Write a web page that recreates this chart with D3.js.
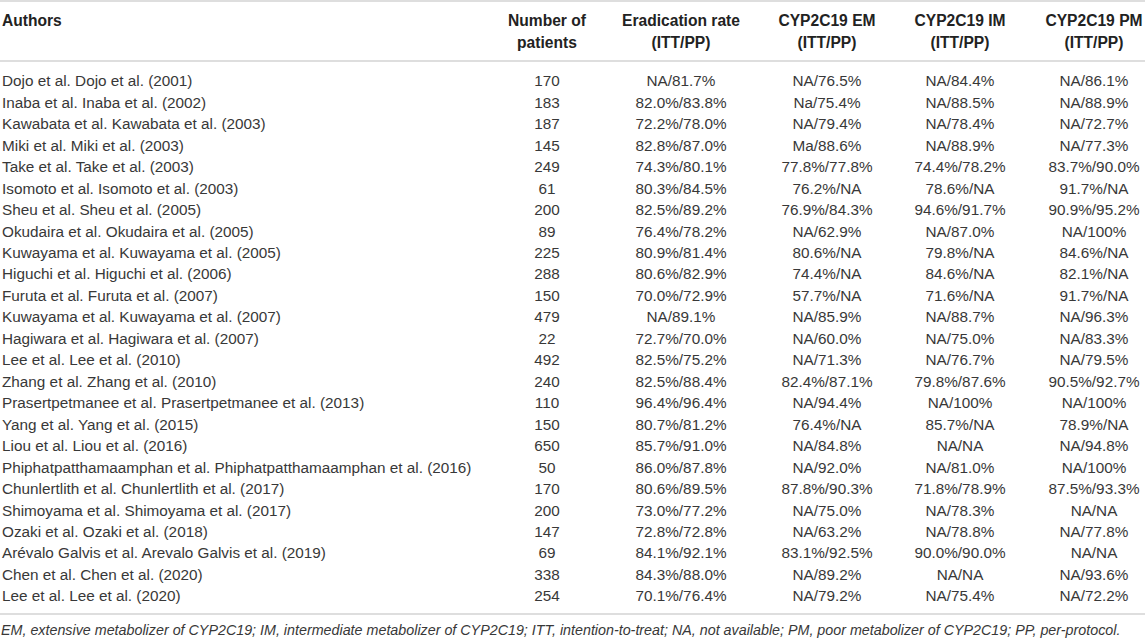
<!DOCTYPE html>
<html>
<head>
<meta charset="utf-8">
<script src="https://cdn.jsdelivr.net/npm/d3@7/dist/d3.min.js"></script>
<style>
  html, body { margin: 0; padding: 0; background: #fff; }
  svg { display: block; font-family: "Liberation Sans", Arial, Helvetica, sans-serif; }
</style>
</head>
<body>
<svg id="chart" width="1145" height="639"></svg>
<script>
const headers = [
  ["Authors"],
  ["Number of", "patients"],
  ["Eradication rate", "(ITT/PP)"],
  ["CYP2C19 EM", "(ITT/PP)"],
  ["CYP2C19 IM", "(ITT/PP)"],
  ["CYP2C19 PM", "(ITT/PP)"]
];
const authors = [
  "Dojo et al. Dojo et al. (2001)",
  "Inaba et al. Inaba et al. (2002)",
  "Kawabata et al. Kawabata et al. (2003)",
  "Miki et al. Miki et al. (2003)",
  "Take et al. Take et al. (2003)",
  "Isomoto et al. Isomoto et al. (2003)",
  "Sheu et al. Sheu et al. (2005)",
  "Okudaira et al. Okudaira et al. (2005)",
  "Kuwayama et al. Kuwayama et al. (2005)",
  "Higuchi et al. Higuchi et al. (2006)",
  "Furuta et al. Furuta et al. (2007)",
  "Kuwayama et al. Kuwayama et al. (2007)",
  "Hagiwara et al. Hagiwara et al. (2007)",
  "Lee et al. Lee et al. (2010)",
  "Zhang et al. Zhang et al. (2010)",
  "Prasertpetmanee et al. Prasertpetmanee et al. (2013)",
  "Yang et al. Yang et al. (2015)",
  "Liou et al. Liou et al. (2016)",
  "Phiphatpatthamaamphan et al. Phiphatpatthamaamphan et al. (2016)",
  "Chunlertlith et al. Chunlertlith et al. (2017)",
  "Shimoyama et al. Shimoyama et al. (2017)",
  "Ozaki et al. Ozaki et al. (2018)",
  "Arévalo Galvis et al. Arevalo Galvis et al. (2019)",
  "Chen et al. Chen et al. (2020)",
  "Lee et al. Lee et al. (2020)"
];
const patients = [170, 183, 187, 145, 249, 61, 200, 89, 225, 288, 150, 479, 22, 492, 240, 110, 150, 650, 50, 170, 200, 147, 69, 338, 254];
const eradication = ["NA/81.7%", "82.0%/83.8%", "72.2%/78.0%", "82.8%/87.0%", "74.3%/80.1%", "80.3%/84.5%", "82.5%/89.2%", "76.4%/78.2%", "80.9%/81.4%", "80.6%/82.9%", "70.0%/72.9%", "NA/89.1%", "72.7%/70.0%", "82.5%/75.2%", "82.5%/88.4%", "96.4%/96.4%", "80.7%/81.2%", "85.7%/91.0%", "86.0%/87.8%", "80.6%/89.5%", "73.0%/77.2%", "72.8%/72.8%", "84.1%/92.1%", "84.3%/88.0%", "70.1%/76.4%"];
const em = ["NA/76.5%", "Na/75.4%", "NA/79.4%", "Ma/88.6%", "77.8%/77.8%", "76.2%/NA", "76.9%/84.3%", "NA/62.9%", "80.6%/NA", "74.4%/NA", "57.7%/NA", "NA/85.9%", "NA/60.0%", "NA/71.3%", "82.4%/87.1%", "NA/94.4%", "76.4%/NA", "NA/84.8%", "NA/92.0%", "87.8%/90.3%", "NA/75.0%", "NA/63.2%", "83.1%/92.5%", "NA/89.2%", "NA/79.2%"];
const im = ["NA/84.4%", "NA/88.5%", "NA/78.4%", "NA/88.9%", "74.4%/78.2%", "78.6%/NA", "94.6%/91.7%", "NA/87.0%", "79.8%/NA", "84.6%/NA", "71.6%/NA", "NA/88.7%", "NA/75.0%", "NA/76.7%", "79.8%/87.6%", "NA/100%", "85.7%/NA", "NA/NA", "NA/81.0%", "71.8%/78.9%", "NA/78.3%", "NA/78.8%", "90.0%/90.0%", "NA/NA", "NA/75.4%"];
const pm = ["NA/86.1%", "NA/88.9%", "NA/72.7%", "NA/77.3%", "83.7%/90.0%", "91.7%/NA", "90.9%/95.2%", "NA/100%", "84.6%/NA", "82.1%/NA", "91.7%/NA", "NA/96.3%", "NA/83.3%", "NA/79.5%", "90.5%/92.7%", "NA/100%", "78.9%/NA", "NA/94.8%", "NA/100%", "87.5%/93.3%", "NA/NA", "NA/77.8%", "NA/NA", "NA/93.6%", "NA/72.2%"];
const footnote = "EM, extensive metabolizer of CYP2C19; IM, intermediate metabolizer of CYP2C19; ITT, intention-to-treat; NA, not available; PM, poor metabolizer of CYP2C19; PP, per-protocol.";

const columns = [authors, patients, eradication, em, im, pm];

const svg = d3.select("#chart");
const W = 1145;

// column anchor positions
const colX = d3.scaleOrdinal().domain(d3.range(6)).range([2, 547, 681, 827, 960, 1094]);
const colAnchor = i => (i === 0 ? "start" : "middle");

// row positions
const rowY = d3.scaleLinear().domain([0, authors.length - 1]).range([81, 596]);
const headY = d3.scaleLinear().domain([0, 1]).range([21, 43]);

const lineColor = "#dedede";
// rules
[1, 61, 614].forEach(y => {
  svg.append("line")
    .attr("x1", 0).attr("x2", W)
    .attr("y1", y).attr("y2", y)
    .attr("stroke", lineColor).attr("stroke-width", 2);
});

// header
const hg = svg.append("g");
headers.forEach((lines, c) => {
  lines.forEach((t, k) => {
    hg.append("text")
      .attr("x", colX(c))
      .attr("y", headY(k))
      .attr("dy", "0.35em")
      .attr("text-anchor", colAnchor(c))
      .attr("font-size", 15.6)
      .attr("font-weight", "bold")
      .attr("fill", "#222")
      .text(t);
  });
});

// body
const bg = svg.append("g");
columns.forEach((col, c) => {
  bg.selectAll(null)
    .data(col)
    .join("text")
    .attr("x", colX(c))
    .attr("y", (d, i) => rowY(i))
    .attr("dy", "0.35em")
    .attr("text-anchor", colAnchor(c))
    .attr("font-size", 15.3)
    .attr("fill", "#383838")
    .text(d => d);
});

// footnote
svg.append("text")
  .attr("x", 1)
  .attr("y", 630)
  .attr("dy", "0.35em")
  .attr("font-size", 14.3)
  .attr("font-style", "italic")
  .attr("fill", "#383838")
  .text(footnote);
</script>
</body>
</html>
